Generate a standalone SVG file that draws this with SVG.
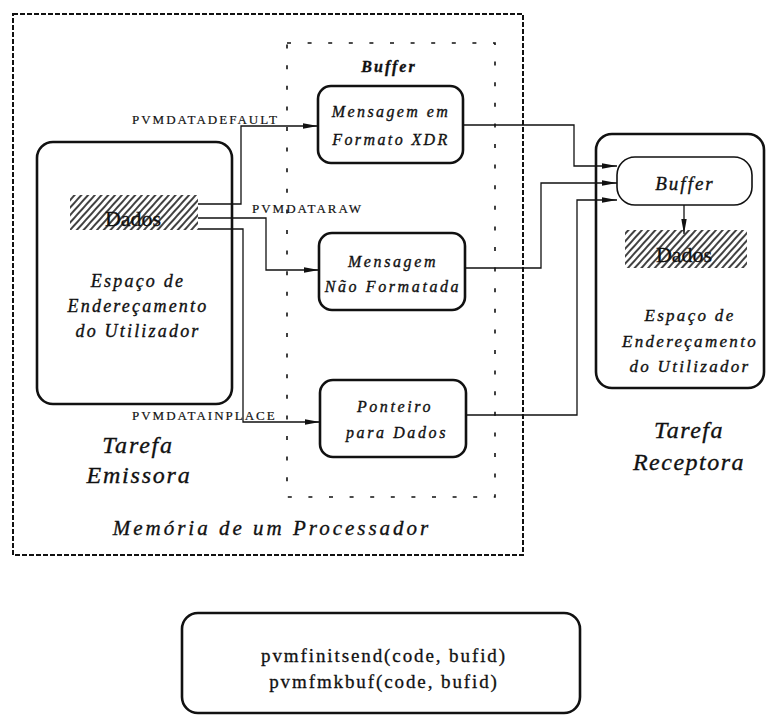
<svg xmlns="http://www.w3.org/2000/svg" width="767" height="717" viewBox="0 0 767 717">
  <defs>
    <marker id="arr" markerUnits="userSpaceOnUse" markerWidth="16" markerHeight="8" refX="15" refY="4" orient="auto">
      <path d="M0,1.3 L15,4 L0,6.7 z" fill="#111"/>
    </marker>
    <pattern id="hatch" patternUnits="userSpaceOnUse" width="5" height="5" patternTransform="rotate(42)">
      <line x1="1" y1="0" x2="1" y2="5" stroke="#111" stroke-width="1.6"/>
    </pattern>
  </defs>
  <style>
    .box { fill: none; stroke: #111; stroke-width: 2.6; }
    .wire { fill: none; stroke: #111; stroke-width: 1.3; }
    .it { font-family: "Liberation Serif", "Times New Roman", serif; font-style: italic; fill: #111; stroke: #111; stroke-width: 0.35; text-anchor: middle; }
    .rm { font-family: "Liberation Serif", "Times New Roman", serif; fill: #111; stroke: #111; stroke-width: 0.3; text-anchor: middle; }
    .flag { font-family: "Liberation Serif", "Times New Roman", serif; fill: #111; stroke: #111; stroke-width: 0.2; font-size: 13px; letter-spacing: 2px; }
  </style>
  <rect width="767" height="717" fill="#fff"/>

  <!-- processor memory region -->
  <g id="memoria">
    <rect x="13" y="14" width="510" height="541" fill="none" stroke="#111" stroke-width="2" stroke-dasharray="5 2"/>
    <text class="it" x="272" y="535" font-size="21" letter-spacing="3">Memória de um Processador</text>
  </g>

  <!-- buffer region -->
  <g id="buffer-area">
    <rect x="287" y="43" width="208" height="454" fill="none" stroke="#111" stroke-width="1.6" stroke-dasharray="4 16.6"/>
    <text class="it" x="389" y="72" font-size="16" font-weight="bold" letter-spacing="2">Buffer</text>
  </g>

  <!-- sending task -->
  <g id="emissora">
    <rect class="box" x="37" y="142" width="195" height="262" rx="16"/>
    <rect x="70" y="195" width="128" height="35" fill="url(#hatch)"/>
    <text class="rm" x="133" y="226" font-size="22">Dados</text>
    <text class="it" x="138" y="287" font-size="18" letter-spacing="2.2">Espaço de</text>
    <text class="it" x="138" y="312" font-size="18" letter-spacing="2.2">Endereçamento</text>
    <text class="it" x="138" y="337" font-size="18" letter-spacing="2.2">do Utilizador</text>
    <text class="it" x="138" y="453" font-size="24" letter-spacing="1.8">Tarefa</text>
    <text class="it" x="139" y="483" font-size="24" letter-spacing="1.8">Emissora</text>
  </g>

  <g id="msg-xdr">
    <rect class="box" x="318" y="86" width="145" height="77" rx="13"/>
    <text class="it" x="391" y="117" font-size="16" letter-spacing="2.4">Mensagem em</text>
    <text class="it" x="391" y="145" font-size="16" letter-spacing="2.4">Formato XDR</text>
  </g>

  <g id="msg-raw">
    <rect class="box" x="319" y="233" width="146" height="77" rx="13"/>
    <text class="it" x="393" y="267" font-size="16" letter-spacing="2.6">Mensagem</text>
    <text class="it" x="393" y="292" font-size="16" letter-spacing="2.6">Não Formatada</text>
  </g>

  <g id="ponteiro">
    <rect class="box" x="320" y="380" width="146" height="77" rx="13"/>
    <text class="it" x="395" y="412" font-size="16" letter-spacing="2.6">Ponteiro</text>
    <text class="it" x="397" y="438" font-size="16" letter-spacing="2.6">para Dados</text>
  </g>

  <!-- receiving task -->
  <g id="receptora">
    <rect class="box" x="596" y="134" width="168" height="254" rx="16"/>
    <text class="it" x="690" y="321" font-size="17" letter-spacing="2.3">Espaço de</text>
    <text class="it" x="690" y="347" font-size="17" letter-spacing="2.3">Endereçamento</text>
    <text class="it" x="690" y="372" font-size="17" letter-spacing="2.3">do Utilizador</text>
    <text class="it" x="689" y="438" font-size="24" letter-spacing="1.5">Tarefa</text>
    <text class="it" x="689" y="470" font-size="24" letter-spacing="1.5">Receptora</text>
  </g>

  <g id="buffer-rx">
    <rect x="617" y="157" width="135" height="48" rx="18" fill="none" stroke="#111" stroke-width="1.6"/>
    <text class="it" x="685" y="190" font-size="19" letter-spacing="2">Buffer</text>
  </g>

  <g id="dados-rx">
    <rect x="625" y="230" width="122" height="38" fill="url(#hatch)"/>
    <text class="rm" x="684" y="262" font-size="22">Dados</text>
  </g>

  <!-- send-side and receive-side connectors -->
  <g id="connectors">
    <polyline class="wire" points="198,204 241,204 241,126 318,126" marker-end="url(#arr)"/>
    <polyline class="wire" points="198,218 266,218 266,270 319,270" marker-end="url(#arr)"/>
    <polyline class="wire" points="198,229 243,229 243,422 320,422" marker-end="url(#arr)"/>
    <polyline class="wire" points="463,125 574,125 574,166 617,166" marker-end="url(#arr)"/>
    <polyline class="wire" points="465,268 541,268 541,183 617,183" marker-end="url(#arr)"/>
    <polyline class="wire" points="466,415 577,415 577,200 617,200" marker-end="url(#arr)"/>
    <line class="wire" x1="684" y1="205" x2="684" y2="234" marker-end="url(#arr)"/>
    <text class="flag" x="132" y="124">PVMDATADEFAULT</text>
    <text class="flag" x="252" y="213">PVMDATARAW</text>
    <text class="flag" x="132" y="420">PVMDATAINPLACE</text>
  </g>

  <!-- routine box -->
  <g id="rotinas">
    <rect class="box" x="182" y="613" width="398" height="100" rx="16"/>
    <text class="rm" x="384" y="662" font-size="19" letter-spacing="1.9">pvmfinitsend(code, bufid)</text>
    <text class="rm" x="384" y="688" font-size="19" letter-spacing="1.9">pvmfmkbuf(code, bufid)</text>
  </g>
</svg>
